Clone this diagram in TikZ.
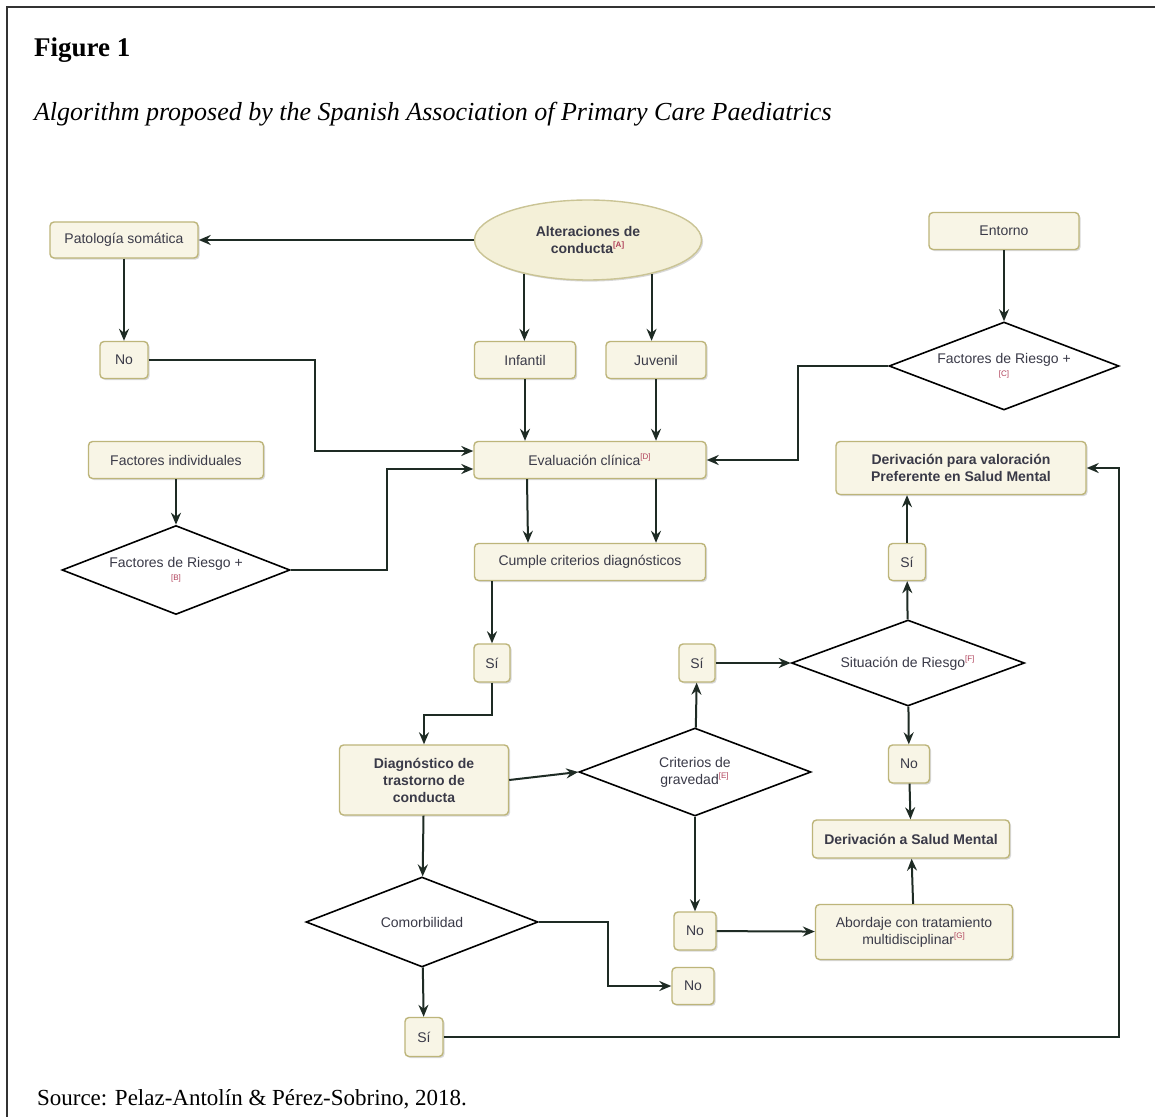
\documentclass[tikz,border=0pt]{standalone}
\usepackage{fontspec}
\setmainfont{Liberation Serif}
\setsansfont{Liberation Sans}
\usetikzlibrary{shapes.geometric,shadows,arrows.meta}

\definecolor{boxfill}{HTML}{F8F5E6}
\definecolor{boxline}{HTML}{BDB57A}
\definecolor{ovalfill}{HTML}{F4F0D8}
\definecolor{linkcol}{HTML}{1E2B24}
\definecolor{textcol}{HTML}{3A3A48}
\definecolor{refcol}{HTML}{B0405A}
\newcommand{\refmark}[1]{\textsuperscript{\textcolor{refcol}{\fontsize{4}{4}\selectfont[#1]}}}

\begin{document}
\begin{tikzpicture}[x=0.5pt,y=-0.5pt,>={Stealth[length=6pt,width=5pt,inset=2pt]},
    every node/.style={font=\sffamily\fontsize{7}{8.5}\selectfont, text=textcol},
    box/.style={draw=boxline, line width=0.7pt, fill=boxfill, rounded corners=2pt, inner sep=1pt, align=center,
        drop shadow={shadow xshift=0.8pt, shadow yshift=-0.8pt, opacity=0.3}},
    oval/.style={ellipse, draw=boxline!80, line width=0.7pt, fill=ovalfill, inner sep=0pt, align=center,
        drop shadow={shadow xshift=0.8pt, shadow yshift=-0.8pt, opacity=0.3}},
    decision/.style={diamond, aspect=2.6, draw=black, line width=0.8pt, fill=white, inner sep=0pt, align=center},
    link/.style={->, draw=linkcol, line width=1pt}]
    \fill[white] (0,0) rectangle (1155,1117);
    \useasboundingbox (0,0) rectangle (1155,1117);
    \draw[line width=0.6pt, black!80] (1155,7) -- (7,7) -- (7,1117);

    % titles
    \node[anchor=west, text=black, font=\rmfamily\bfseries\fontsize{13.5}{16}\selectfont] (fig) at (27,50) {Figure 1};
    \node[anchor=west, text=black, font=\rmfamily\itshape\fontsize{13}{16}\selectfont] (caption) at (27,114) {Algorithm proposed by the Spanish Association of Primary Care Paediatrics};
    \node[anchor=west, text=black, font=\rmfamily\fontsize{11.5}{13}\selectfont] (source) at (30,1099) {Source: Pelaz-Antolín \& Pérez-Sobrino, 2018.};

    % top row
    \node (pato) [box, minimum width=74pt, minimum height=18pt] at (124,240) {Patología somática};
    \node (alter) [oval, minimum width=113.5pt, minimum height=40pt, font=\sffamily\bfseries\fontsize{7}{8.5}\selectfont] at (588,240) {Alteraciones de\\conducta\refmark{A}};
    \node (entorno) [box, minimum width=75pt, minimum height=18.5pt] at (1004,231) {Entorno};

    \node (noA) [box, minimum width=24pt, minimum height=18.5pt] at (124,360) {No};
    \node (infantil) [box, minimum width=50.5pt, minimum height=18.5pt] at (525,360) {Infantil};
    \node (juvenil) [box, minimum width=50pt, minimum height=18.5pt] at (656,360) {Juvenil};
    \node (riesgoC) [decision, minimum width=115pt, minimum height=44pt] at (1004,366) {Factores de Riesgo +\\[-2pt]{\textcolor{refcol}{\fontsize{4}{4}\selectfont[C]}}};

    % evaluation
    \node (individ) [box, minimum width=87.5pt, minimum height=18.5pt] at (176,460) {Factores individuales};
    \node (evalua) [box, minimum width=116pt, minimum height=18.5pt] at (590,460) {Evaluación clínica\refmark{D}};
    \node (derivP) [box, minimum width=125pt, minimum height=26.5pt, font=\sffamily\bfseries\fontsize{7}{8.5}\selectfont] at (961,468) {Derivación para valoración\\Preferente en Salud Mental};
    \node (riesgoB) [decision, minimum width=114pt, minimum height=44.5pt] at (176,570) {Factores de Riesgo +\\[-2pt]{\textcolor{refcol}{\fontsize{4}{4}\selectfont[B]}}};
    \node (cumple) [box, minimum width=115.5pt, minimum height=18.5pt] at (590,562) {Cumple criterios diagnósticos};
    \node (siD) [box, minimum width=18.5pt, minimum height=18.5pt] at (907,562) {Sí};

    % diagnosis
    \node (siA) [box, minimum width=18pt, minimum height=19pt] at (492,663) {Sí};
    \node (siB) [box, minimum width=18pt, minimum height=19pt] at (697,663) {Sí};
    \node (situa) [decision, minimum width=116.5pt, minimum height=43pt] at (908,663) {Situación de Riesgo\refmark{F}};
    \node (diagn) [box, minimum width=84.5pt, minimum height=35pt, font=\sffamily\bfseries\fontsize{7}{8.5}\selectfont] at (424,780) {Diagnóstico de\\trastorno de\\conducta};
    \node (grave) [decision, minimum width=116pt, minimum height=44pt] at (695,772) {Criterios de\\gravedad\refmark{E}};
    \node (noB) [box, minimum width=20.5pt, minimum height=19pt] at (909,764) {No};
    \node (derivSM) [box, minimum width=98.5pt, minimum height=19pt, font=\sffamily\bfseries\fontsize{7}{8.5}\selectfont] at (911,839) {Derivación a Salud Mental};

    % treatment
    \node (comorb) [decision, minimum width=116pt, minimum height=45pt] at (422,922) {Comorbilidad};
    \node (noC) [box, minimum width=21pt, minimum height=19pt] at (695,931) {No};
    \node (abord) [box, minimum width=98.5pt, minimum height=27.5pt] at (914,932) {Abordaje con tratamiento\\multidisciplinar\refmark{G}};
    \node (noD) [box, minimum width=21pt, minimum height=18.5pt] at (693,986) {No};
    \node (siC) [box, minimum width=19pt, minimum height=19.5pt] at (424,1037) {Sí};

    % connectors
    \draw[link] (alter) -- (pato);
    \draw[link] (pato) -- (noA);
    \draw[link] (alter.208) -- (alter.208 |- infantil.north);
    \draw[link] (alter.332) -- (alter.332 |- juvenil.north);
    \draw[link] (entorno) -- (riesgoC);
    \draw[link] (noA.east) -- ++(166,0) |- ([yshift=4.5pt]evalua.west);
    \draw[link] (infantil) -- (evalua.north -| infantil);
    \draw[link] (juvenil) -- (evalua.north -| juvenil);
    \draw[link] (riesgoC.west) -- ++(-90,0) |- (evalua.east);
    \draw[link] (individ) -- (riesgoB);
    \draw[link] (riesgoB.east) -- ++(96,0) |- ([yshift=-4.5pt]evalua.west);
    \draw[link] ([xshift=-31.5pt]evalua.south) -- ([xshift=-31pt]cumple.north);
    \draw[link] ([xshift=33pt]evalua.south) -- ([xshift=33pt]cumple.north);
    \draw[link] (cumple.south -| siA) -- (siA);
    \draw[link] (siA.south) -- ++(0,32) -| (diagn.north);
    \draw[link] (diagn.east) -- (grave.west);
    \draw[link] (grave) -- (siB);
    \draw[link] (siB) -- (situa);
    \draw[link] (situa) -- (siD);
    \draw[link] (siD) -- (derivP.south -| siD);
    \draw[link] (situa) -- (noB);
    \draw[link] (noB) -- (derivSM);
    \draw[link] (grave) -- (noC);
    \draw[link] (noC) -- (abord);
    \draw[link] (abord) -- (derivSM);
    \draw[link] (diagn) -- (comorb);
    \draw[link] (comorb.east) -- ++(69,0) |- (noD.west);
    \draw[link] (comorb) -- (siC);
    \draw[link] (siC.east) -- ++(675,0) |- (derivP.east);
\end{tikzpicture}
\end{document}
